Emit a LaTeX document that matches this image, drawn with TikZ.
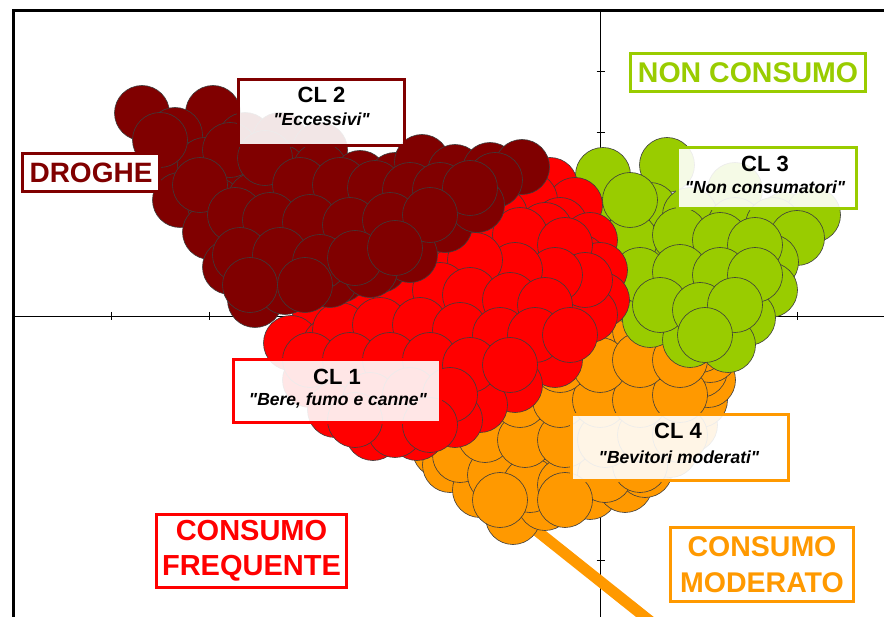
\documentclass[tikz,border=0pt]{standalone}
\usepackage{fontspec}
\setmainfont{Liberation Sans}[Ligatures=TeXOff]
\definecolor{cdr}{HTML}{800000}
\definecolor{cred}{HTML}{FF0000}
\definecolor{cgr}{HTML}{99CC00}
\definecolor{cor}{HTML}{FF9900}
\definecolor{cout}{HTML}{3C3C3C}
\begin{document}
\begin{tikzpicture}[x=1pt,y=-1pt,
  blob/.style={draw=cout,line width=0.6pt},
  frameline/.style={line width=2.7pt,black},
  axisline/.style={line width=0.9pt,black},
  clbox/.style={draw,line width=3pt,fill=white,fill opacity=0.9,inner sep=0pt},
  bigbox/.style={draw,line width=3pt,fill=white,inner sep=0pt,align=center},
  cltitle/.style={font=\fontsize{22}{24}\selectfont\bfseries,inner sep=0pt},
  clsub/.style={font=\fontsize{17.5}{20}\selectfont\bfseries\itshape,inner sep=0pt},
  leader/.style={line width=11pt,cor}]
\useasboundingbox (0,0) rectangle (884,617);
\clip (0,0) rectangle (884,617);
\fill[white] (0,0) rectangle (884,617);
% frame and axes
\draw[frameline] (13.7,617) -- (13.7,10.7) -- (884,10.7);
\draw[axisline] (14,316) -- (884,316);
\draw[axisline] (600.5,12) -- (600.5,617);
\foreach \t in {111,209,307,405,503,699,797} \draw[axisline] (\t,312) -- (\t,320);
\foreach \t in {71,132,193,254,377,438,499,560} \draw[axisline] (596.5,\t) -- (604.5,\t);
% leader line
\coordinate (lnA) at (522,519);
\coordinate (lnB) at (665,633);
\draw[leader] (lnA) -- (lnB);
% orange cluster
\foreach \x/\y in {440/450,450/465,480/490,513/517,545/503,590/492,625/485,645/470,
  470/440,510/460,550/465,590/460,630/455,670/450,690/425,
  500/420,540/420,580/420,620/420,660/415,700/400,708/380,
  540/385,580/380,620/380,660/375,700/370,710/355,
  580/350,620/345,660/345,700/345,600/330,640/330,680/330,
  460/455,495/475,530/485,565/485,605/475,640/465,485/435,525/440,565/440,
  605/440,645/435,680/435,520/400,560/400,600/400,640/400,680/395,
  560/365,600/365,640/360,680/360,500/500,565/500}
  \draw[blob,fill=cor] (\x,\y) circle[radius=27.5];
% green cluster
\foreach \x/\y in {603/175,667/165,735/190,785/220,813/215,
  615/222,650/210,690/215,735/225,773/225,797/238,
  625/260,660/252,700/255,740/260,771/262,
  630/295,670/290,710/295,750/290,770/290,
  650/320,690/325,725/325,748/318,
  690/340,728/345,
  630/240,680/235,720/240,755/245,640/275,680/272,720/275,755/275,
  660/305,700/310,735/305,705/335,630/200}
  \draw[blob,fill=cgr] (\x,\y) circle[radius=27.5];
% red cluster
\foreach \x/\y in {550/185,575/205,530/200,500/215,560/225,590/240,
  460/240,500/250,540/255,580/262,600/270,
  420/270,455/275,495/285,535/290,575/292,602/300,
  320/315,360/310,400/305,440/310,480/315,520/320,560/320,590/315,
  291/343,330/345,370/340,410/345,450/350,490/350,517/355,550/345,
  310/380,350/375,390/380,430/380,475/398,500/380,555/360,515/385,480/405,
  335/410,373/433,417/433,400/410,440/410,455/420,
  545/230,520/235,565/245,585/280,555/275,515/270,475/260,440/290,470/295,
  510/300,545/305,340/330,380/325,420/325,460/330,500/335,535/335,570/335,
  310/360,350/360,390/360,430/360,470/365,510/365,370/400,410/395,450/395,
  395/430,430/425,355/420}
  \draw[blob,fill=cred] (\x,\y) circle[radius=27.5];
% dark red cluster
\foreach \x/\y in {142/113,213/113,175/135,245/140,280/140,320/150,
  170/163,205/165,240/175,280/172,320/170,360/178,395/180,422/162,455/172,490/170,522/167,
  180/200,215/205,255/200,300/205,340/200,380/200,420/205,460/205,495/180,
  210/232,250/240,290/238,330/250,370/235,410/232,445/225,477/205,
  230/267,265/275,300/270,340/275,380/265,410/255,
  255/300,285/287,330/280,370/270,
  160/140,230/150,265/158,300/185,340/185,375/188,410/190,440/190,470/188,
  200/185,235/215,270/220,310/222,350/225,390/220,430/215,240/255,280/255,
  320/262,355/258,395/248,250/285,305/285}
  \draw[blob,fill=cdr] (\x,\y) circle[radius=27.5];
% cluster labels
\node[clbox,draw=cdr,minimum width=166pt,minimum height=66pt] (cl2box) at (321.5,112.5) {};
\node[cltitle] (cl2t) at (321.5,95) {CL 2};
\node[clsub] (cl2s) at (321.5,119.5) {"Eccessivi"};
\node[clbox,draw=cgr,minimum width=179pt,minimum height=61pt] (cl3box) at (767,178) {};
\node[cltitle] (cl3t) at (765,163.5) {CL 3};
\node[clsub] (cl3s) at (765,187) {"Non consumatori"};
\node[clbox,draw=cred,minimum width=207pt,minimum height=63pt] (cl1box) at (337,391) {};
\node[cltitle] (cl1t) at (337,376.5) {CL 1};
\node[clsub] (cl1s) at (338,400.5) {"Bere, fumo e canne"};
\node[clbox,draw=cor,minimum width=217pt,minimum height=66pt] (cl4box) at (680,447.5) {};
\node[cltitle] (cl4t) at (678,431) {CL 4};
\node[clsub] (cl4s) at (679,457) {"Bevitori moderati"};
% area labels
\node[bigbox,draw=cdr,text=cdr,minimum width=137pt,minimum height=38pt,
  font=\fontsize{28}{30}\selectfont\bfseries] (drog) at (91,172.5) {DROGHE};
\node[bigbox,draw=cgr,text=cgr,minimum width=235pt,minimum height=38pt,
  font=\fontsize{28.5}{30}\selectfont\bfseries] (noncons) at (748,72.5) {NON CONSUMO};
\node[bigbox,draw=cred,text=cred,minimum width=190pt,minimum height=73pt,
  font=\fontsize{29}{35}\selectfont\bfseries] (freq) at (251.5,551) {CONSUMO\\FREQUENTE};
\node[bigbox,draw=cor,text=cor,minimum width=183pt,minimum height=74pt,
  font=\fontsize{28.5}{35.5}\selectfont\bfseries] (moder) at (762,564.5) {CONSUMO\\MODERATO};
\end{tikzpicture}
\end{document}
